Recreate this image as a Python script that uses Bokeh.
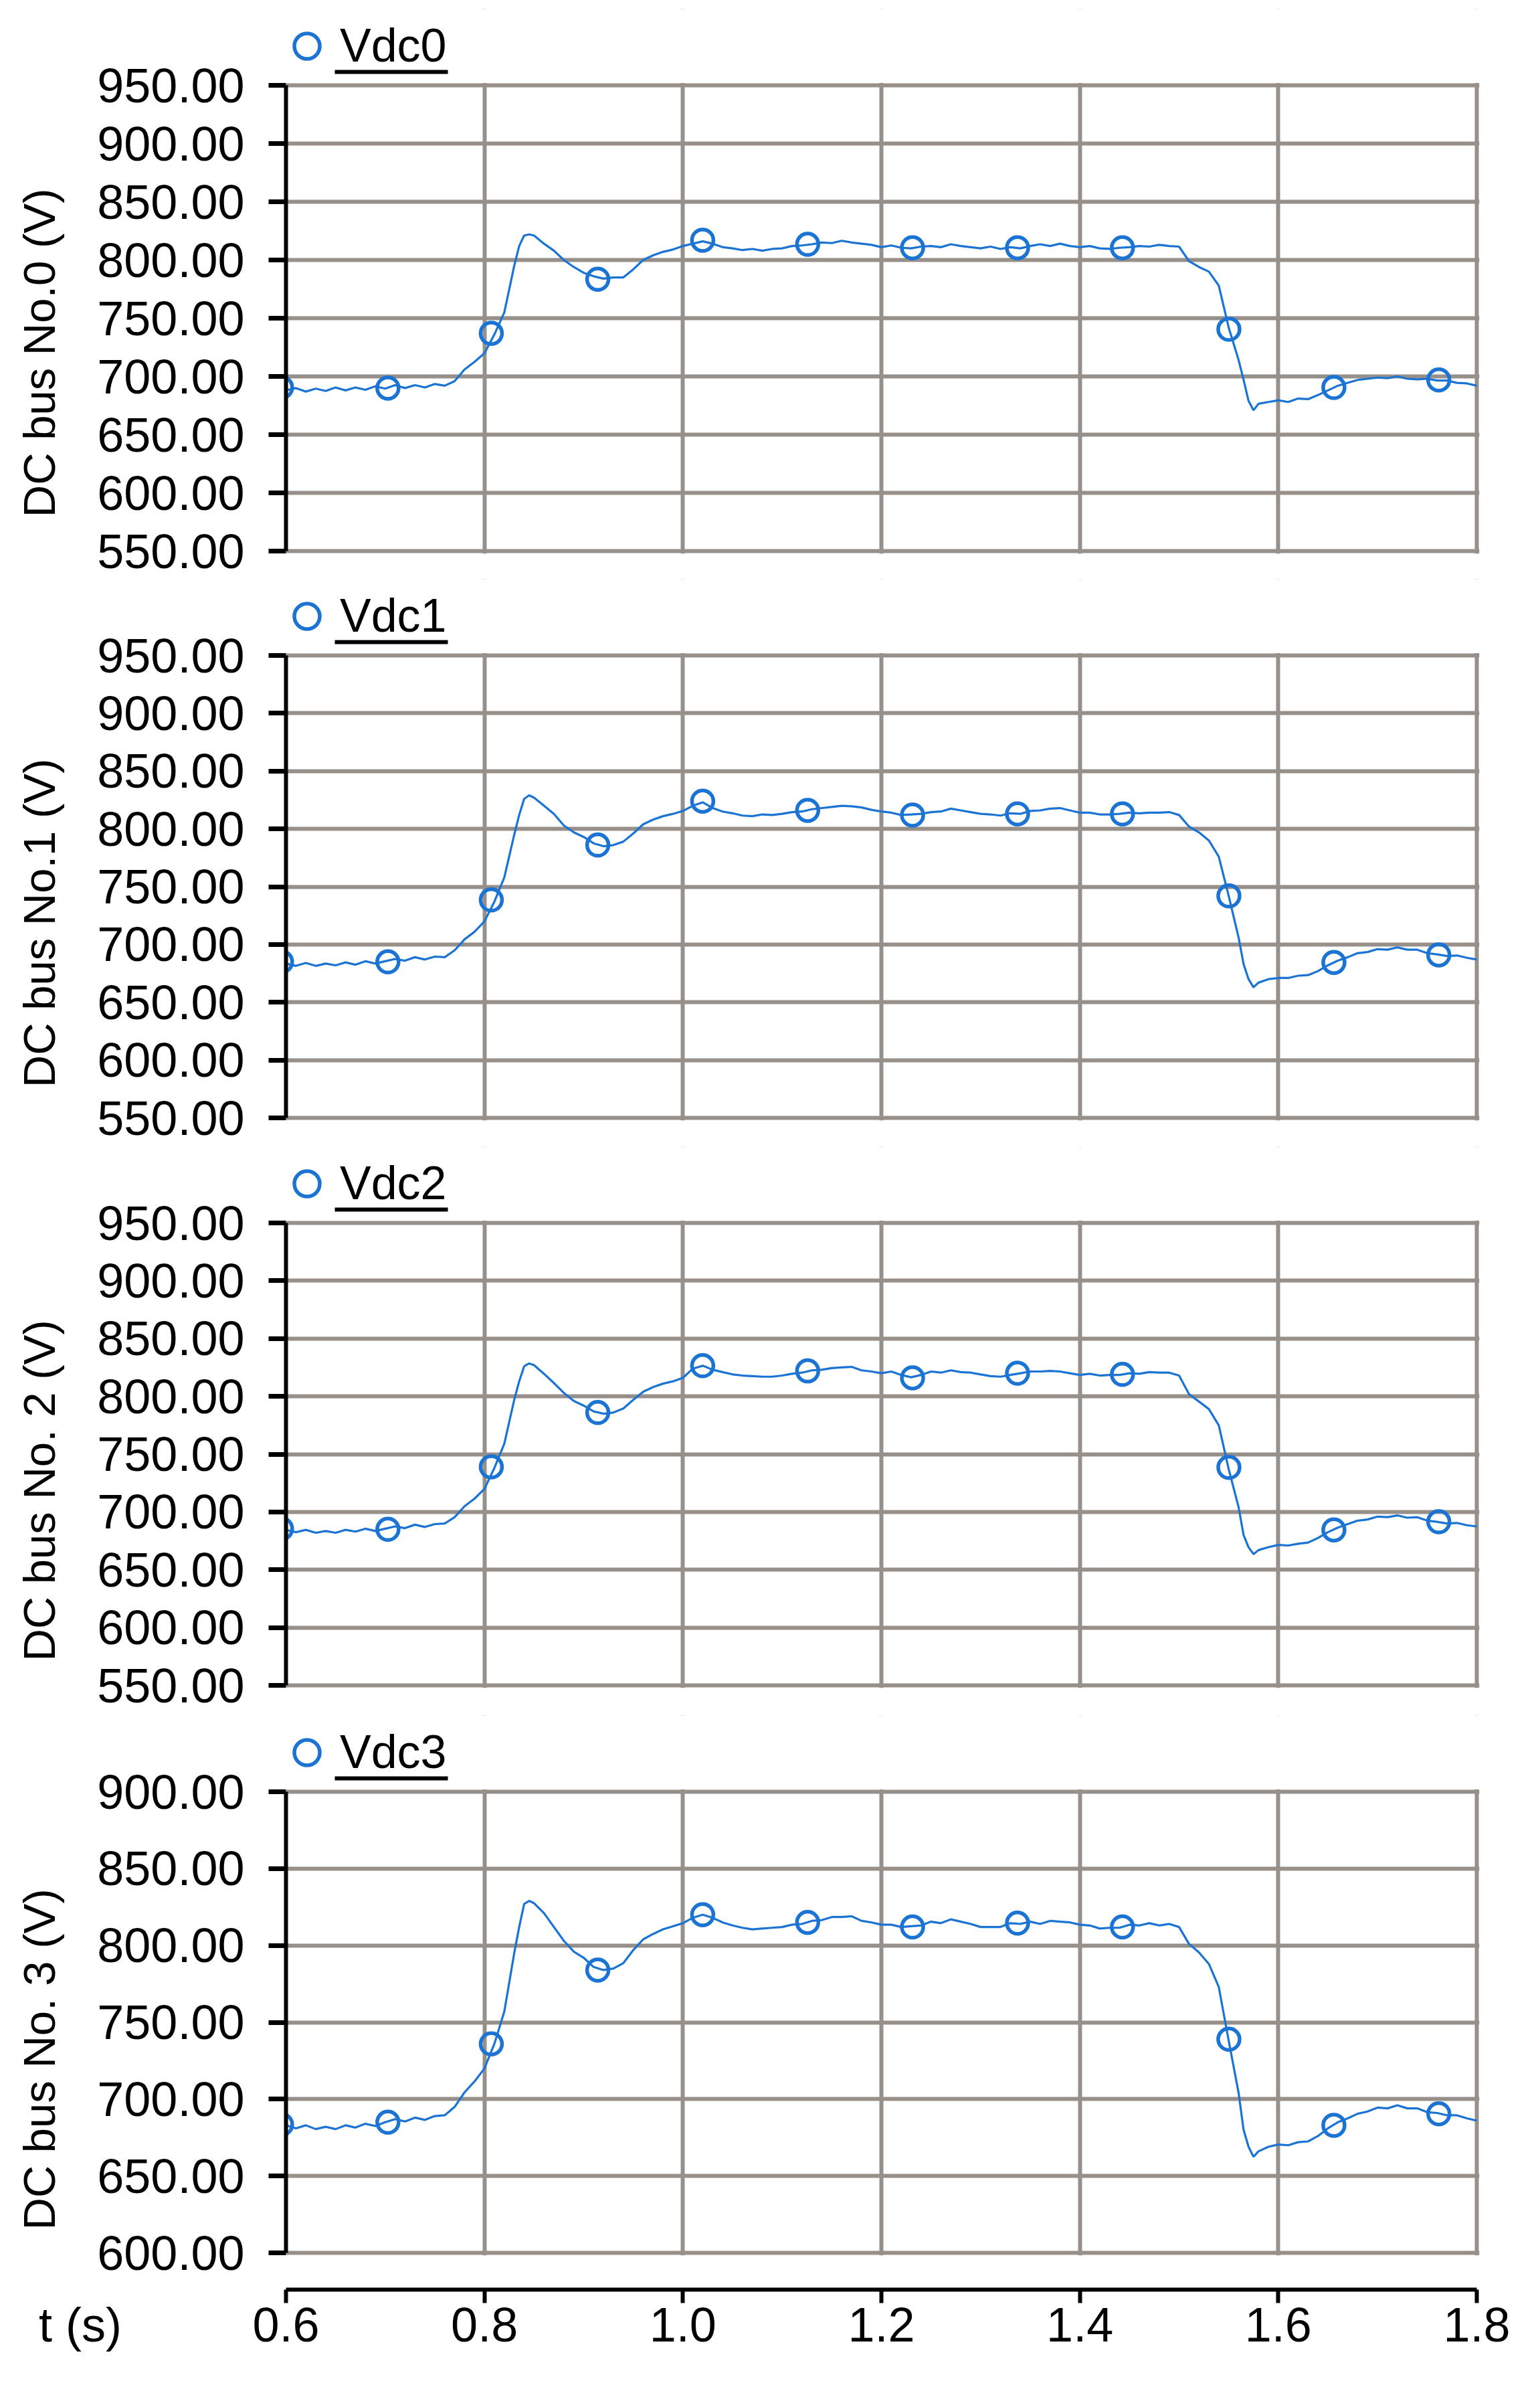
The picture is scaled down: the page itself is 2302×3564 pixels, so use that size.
import math
from bokeh.plotting import figure
from bokeh.layouts import column, row
from bokeh.models import (Range1d, FixedTicker, NumeralTickFormatter, Legend, LegendItem,
                          BoxAnnotation, Label, ColumnDataSource)
from bokeh.embed import file_html
from bokeh.resources import INLINE

# ---------------- data ----------------
T = [0.60, 0.61, 0.62, 0.63, 0.64, 0.65, 0.66, 0.67, 0.68, 0.69,
     0.70, 0.71, 0.72, 0.73, 0.74, 0.75, 0.76, 0.77, 0.78, 0.79,
     0.80, 0.81, 0.82, 0.83, 0.835, 0.84, 0.845, 0.85, 0.86, 0.87, 0.88, 0.89,
     0.90, 0.91, 0.92, 0.93, 0.94, 0.95, 0.96, 0.97, 0.98, 0.99,
     1.00, 1.01, 1.02, 1.03, 1.04, 1.05, 1.06, 1.07, 1.08, 1.09,
     1.10, 1.11, 1.12, 1.13, 1.14, 1.15, 1.16, 1.17, 1.18, 1.19,
     1.20, 1.21, 1.22, 1.23, 1.24, 1.25, 1.26, 1.27, 1.28, 1.29,
     1.30, 1.31, 1.32, 1.33, 1.34, 1.35, 1.36, 1.37, 1.38, 1.39,
     1.40, 1.41, 1.42, 1.43, 1.44, 1.45, 1.46, 1.47, 1.48, 1.49,
     1.50, 1.51, 1.52, 1.53, 1.54, 1.55, 1.56, 1.565, 1.57, 1.575, 1.58, 1.59,
     1.60, 1.61, 1.62, 1.63, 1.64, 1.65, 1.66, 1.67, 1.68, 1.69,
     1.70, 1.71, 1.72, 1.73, 1.74, 1.75, 1.76, 1.77, 1.78, 1.79, 1.80]

VDC0 = [688, 690, 687, 689.5, 687.5, 690.5, 688, 690.5, 688.5, 691.5,
        689.5, 692.5, 690, 692.5, 690.5, 693.5, 692, 696, 706, 712.5,
        720, 736, 755, 795, 812, 821, 822, 821, 814, 808, 800, 794,
        789, 786, 784, 785, 785, 792, 800, 804, 807, 809,
        812, 814, 816, 814, 811, 810, 808.5, 809.5, 808, 809.5,
        810, 812, 812.5, 813.5, 815, 814.5, 816.5, 815, 814, 813,
        811, 812.5, 810.5, 810, 811.5, 812, 811, 813.5, 812, 811,
        810, 811.5, 809.5, 811, 810, 812, 813.5, 812, 814, 812,
        811, 812, 810, 809.5, 810.5, 811, 812, 811.5, 813, 812,
        811.5, 799, 794, 790, 778, 742, 714, 697, 679, 671, 676.5, 678,
        679.5, 678, 681, 680.5, 684, 688, 692, 694.5, 697, 698,
        699, 698.5, 700, 698, 697.5, 698, 696.5, 696.5, 694.5, 694, 692]

VDC1 = [683.5, 681.5, 684, 681.5, 683.5, 682, 684.5, 682.5, 685.5, 683.5,
        685.5, 687.5, 686, 689, 687, 689.5, 689, 695, 704.5, 711,
        720, 737, 758, 795, 812, 826, 829, 827, 820, 813, 803, 797,
        793, 787.5, 785, 786, 789, 796, 804, 808, 811, 813,
        815.5, 820, 823, 818, 815, 813.5, 811.5, 811, 812.5, 812,
        813, 814.5, 815, 817, 818, 819, 820, 819.5, 818.5, 816.5,
        815, 814, 812, 812.5, 813, 814.5, 815, 817.5, 816, 814.5,
        813, 812.5, 811.5, 813.5, 813, 815.5, 816, 817.5, 818, 816,
        814, 814, 812.5, 812.5, 813, 814, 813.5, 814, 814, 814.5,
        812, 802, 797, 790, 776, 742, 706, 683, 670, 663, 667, 670,
        671, 671, 673, 673.5, 677, 682, 686, 689, 692.5, 693.5,
        696, 695.5, 697.5, 695.5, 695.5, 692.5, 691.5, 690, 690.5, 688.5, 687]

VDC2 = [684.5, 682.5, 684.5, 682, 683.5, 682, 684.5, 683, 685.5, 683.5,
        685.5, 687.5, 686, 689, 687, 689.5, 690, 695.5, 705, 711.5,
        720, 738, 759, 797, 813, 826, 828.5, 827, 819.5, 811.5, 803, 796,
        792, 787, 785, 786, 789.5, 797, 804, 808, 811, 813,
        816, 824, 826.5, 823, 821, 819, 818, 817.5, 817, 817,
        818, 819.5, 820.5, 822.5, 823, 824.5, 825, 825.5, 822.5, 821.5,
        820, 821.5, 818.5, 816.5, 818.5, 821.5, 820.5, 822.5, 821, 820.5,
        819, 817.5, 817, 818.5, 820, 821.5, 821.5, 822, 821.5, 820,
        818.5, 819.5, 818, 818.5, 818.5, 820, 819.5, 821, 820.5, 820.5,
        818, 802, 795.5, 789, 775, 737, 704, 680, 669.5, 663.5, 667, 669.5,
        671.5, 671, 672.5, 673.5, 677.5, 682.5, 686.5, 689.5, 692.5, 693.5,
        696, 695.5, 697, 695, 695.5, 692.5, 691.5, 690, 690.5, 688.5, 687.5]

VDC3 = [683, 681, 683, 680.5, 682, 680.5, 683, 681.5, 684, 682.5,
        685, 687, 685.5, 688, 686.5, 689, 689.5, 695, 704.5, 711.5,
        720, 736, 757, 795, 812, 827, 829, 827.5, 821, 812, 803, 796,
        792, 786, 784, 785, 788.5, 797, 804, 807.5, 810.5, 812.5,
        814.5, 818, 820, 818, 815, 813, 811.5, 810.5, 811, 811.5,
        812, 813.5, 814, 816, 816.5, 818.5, 818.5, 819, 816, 815,
        813.5, 813.5, 812, 812.5, 813, 815.5, 814.5, 817, 815.5, 814,
        812, 812, 812, 814.5, 814, 815.5, 814, 816, 815.5, 815,
        813.5, 813, 811, 811.5, 811.5, 813.5, 813, 814.5, 813, 814,
        812, 801, 795.5, 788, 773, 738, 704, 680, 669, 662.5, 666, 669,
        670.5, 670, 672, 672.5, 676, 681, 685, 687.5, 690.5, 692,
        694.5, 694, 696, 694, 694, 691.5, 691, 689.5, 689.5, 687.5, 686]

# marker positions (one marker about every 0.106 s)
MT = [0.5955, 0.7027, 0.8069, 0.9142, 1.0199, 1.1257, 1.2314, 1.3372, 1.4429, 1.5502, 1.6560, 1.7617]
M0 = [690.5, 690, 737, 783.5, 817, 813.5, 810.5, 810.5, 810.5, 740.5, 690.5, 697]
M1 = [685, 685, 738.5, 786, 824, 816, 812, 813, 813, 742, 684.5, 691]
M2 = [685.5, 685, 739, 786, 826.5, 822, 816, 820, 819, 738.5, 684.5, 691.5]
M3 = [683.5, 685, 736, 784, 820, 815, 812, 814.5, 812, 739, 683, 690.5]

NAMES = ["Vdc0", "Vdc1", "Vdc2", "Vdc3"]
YLABELS = ["DC bus No.0 (V)", "DC bus No.1 (V)", "DC bus No. 2 (V)", "DC bus No. 3 (V)"]
YTICKS_A = [550, 600, 650, 700, 750, 800, 850, 900, 950]
YTICKS_B = [600, 650, 700, 750, 800, 850, 900]
XTICKS = [0.6, 0.8, 1.0, 1.2, 1.4, 1.6, 1.8]
X_LABEL = "t (s)"

for s in (VDC0, VDC1, VDC2, VDC3):
    assert len(s) == len(T), (len(s), len(T))

# ---------------- geometry / styling ----------------
FONT = "Liberation Sans"
BLUE = "#1b74d3"
GRAY = "#968f8a"

PXS = 1780 / 1.2          # pixels per second
X_PAD_PX = 4              # so that the 1.8 grid line is fully drawn
FW = 1780 + X_PAD_PX
LEFT = 427                # x of the y axis
RIGHT = 83
YLAB_W = 130              # strip left of each panel holding the rotated y label
TOP_PX = 114              # frame top -> highest tick (room for the legend)
BOT_PX = 4                # lowest tick -> frame bottom
SPANS = [696, 691, 691, 689]      # pixel distance lowest -> highest tick, per panel
MIN_TOPS = [13, 0, 1, 3]
MIN_BOTTOM = 38
LABEL_CENTER_PX = 400     # y-label centre below the highest tick
GLYPH = 95                # legend glyph box
LEG_CENTER_ABOVE = 59     # legend circle centre above the highest tick

xr = Range1d(0.6, 1.8 + X_PAD_PX / PXS)


def make_panel(name, ylabel, vals, mvals, yticks, span, min_top):
    ymin, ymax = yticks[0], yticks[-1]
    pxv = span / (ymax - ymin)
    fh = TOP_PX + span + BOT_PX
    yr = Range1d(ymin - BOT_PX / pxv, ymax + TOP_PX / pxv)
    p = figure(frame_width=FW, frame_height=fh, x_range=xr, y_range=yr,
               x_axis_location=None, output_backend="svg", toolbar_location=None,
               min_border_left=LEFT - YLAB_W, min_border_right=RIGHT,
               min_border_top=min_top, min_border_bottom=MIN_BOTTOM)
    p.outline_line_color = None

    p.xgrid.ticker = FixedTicker(ticks=XTICKS)
    p.ygrid.ticker = FixedTicker(ticks=yticks)
    for g in (p.xgrid, p.ygrid):
        g.grid_line_color = GRAY
        g.grid_line_width = 6

    # white band above the top tick: hides vertical grid lines in the legend area
    p.add_layout(BoxAnnotation(left=xr.start, right=xr.end, bottom=ymax + 3.5 / pxv, top=yr.end,
                               fill_color="white", fill_alpha=1.0, line_color=None,
                               level="underlay"))

    src = ColumnDataSource(dict(t=T, v=vals))
    p.line("t", "v", source=src, line_color=BLUE, line_width=3.2)
    msrc = ColumnDataSource(dict(t=MT, v=mvals))
    r = p.scatter("t", "v", source=msrc, marker="circle", size=32,
                  fill_color=None, line_color=BLUE, line_width=5.5)

    ax = p.yaxis[0]
    ax.bounds = (ymin, ymax)
    ax.ticker = FixedTicker(ticks=yticks)
    ax.formatter = NumeralTickFormatter(format="0.00")
    ax.major_label_text_font = FONT
    ax.major_label_text_font_size = "72px"
    ax.major_label_text_color = "black"
    ax.major_label_standoff = 36
    ax.axis_line_color = "black"
    ax.axis_line_width = 6
    ax.major_tick_line_color = "black"
    ax.major_tick_line_width = 7
    ax.major_tick_out = 26
    ax.major_tick_in = 0
    ax.minor_tick_line_color = None

    leg_y = BOT_PX + span + LEG_CENTER_ABOVE - GLYPH / 2
    leg = Legend(items=[LegendItem(label=name, renderers=[r])], location=(-16, leg_y),
                 orientation="horizontal", glyph_width=GLYPH, glyph_height=GLYPH,
                 label_standoff=2, padding=0, margin=0, spacing=0,
                 border_line_color=None, background_fill_alpha=0,
                 label_text_font=FONT, label_text_font_size="70px",
                 label_text_color="black")
    p.add_layout(leg, "center")

    # underline of the legend label
    p.add_layout(BoxAnnotation(left=0.6 + 73 / PXS, right=0.6 + 242 / PXS,
                               bottom=ymax + 17 / pxv, top=ymax + 23 / pxv,
                               fill_color="black", fill_alpha=1.0, line_color=None))

    # strip on the left with the rotated y-axis title (frames are aligned in a row)
    lf = figure(frame_width=YLAB_W, frame_height=fh, x_range=Range1d(0, YLAB_W),
                y_range=Range1d(0, fh), x_axis_location=None, y_axis_location=None,
                output_backend="svg", toolbar_location=None,
                min_border_left=0, min_border_right=0,
                min_border_top=min_top, min_border_bottom=MIN_BOTTOM)
    lf.outline_line_color = None
    lf.xgrid.visible = False
    lf.ygrid.visible = False
    lf.add_layout(Label(x=58, y=fh - TOP_PX - LABEL_CENTER_PX, text=ylabel, angle=math.pi / 2,
                        text_font=FONT, text_font_size="67px", text_color="black",
                        text_align="center", text_baseline="alphabetic"))
    return row(lf, p, spacing=0)


rows = []
for name, yl, vals, mv, yt, sp, mt in zip(NAMES, YLABELS, [VDC0, VDC1, VDC2, VDC3],
                                          [M0, M1, M2, M3],
                                          [YTICKS_A, YTICKS_A, YTICKS_A, YTICKS_B],
                                          SPANS, MIN_TOPS):
    rows.append(make_panel(name, yl, vals, mv, yt, sp, mt))

# bottom strip: "t (s)" on the left, x axis (slightly detached from the last panel)
STRIP_H = 142
STRIP_FH = 13
TLAB_W = 239
labfig = figure(frame_width=TLAB_W, frame_height=STRIP_FH, x_range=Range1d(0, 1),
                y_range=Range1d(0, 1), y_axis_location=None, output_backend="svg",
                toolbar_location=None, min_border_left=0, min_border_right=0,
                min_border_top=0, min_border_bottom=STRIP_H - STRIP_FH)
labfig.outline_line_color = None
labfig.xgrid.visible = False
labfig.ygrid.visible = False
la = labfig.xaxis[0]
la.ticker = FixedTicker(ticks=[])
la.axis_line_color = None
la.major_tick_out = 0
la.major_tick_in = 0
la.minor_tick_out = 0
la.minor_tick_in = 0
la.major_label_standoff = 0
la.axis_label = X_LABEL
la.axis_label_standoff = 12
la.axis_label_text_font = FONT
la.axis_label_text_font_size = "72px"
la.axis_label_text_font_style = "normal"
la.axis_label_text_color = "black"

pax = figure(frame_width=FW, frame_height=STRIP_FH, x_range=xr, y_range=Range1d(0, 1),
             y_axis_location=None, output_backend="svg", toolbar_location=None,
             min_border_left=LEFT - TLAB_W, min_border_right=RIGHT, min_border_top=0,
             min_border_bottom=STRIP_H - STRIP_FH)
pax.outline_line_color = None
pax.xgrid.visible = False
pax.ygrid.visible = False
xa = pax.xaxis[0]
xa.bounds = (0.6, 1.8)
xa.ticker = FixedTicker(ticks=XTICKS)
xa.formatter = NumeralTickFormatter(format="0.0")
xa.major_label_text_font = FONT
xa.major_label_text_font_size = "72px"
xa.major_label_text_color = "black"
xa.major_label_standoff = 7
xa.axis_line_color = "black"
xa.axis_line_width = 6
xa.major_tick_line_color = "black"
xa.major_tick_line_width = 6
xa.major_tick_out = 20
xa.major_tick_in = 0
xa.minor_tick_line_color = None

layout = column(*rows, row(labfig, pax, spacing=0), spacing=0)
open("out.html", "w").write(file_html(layout, INLINE))
